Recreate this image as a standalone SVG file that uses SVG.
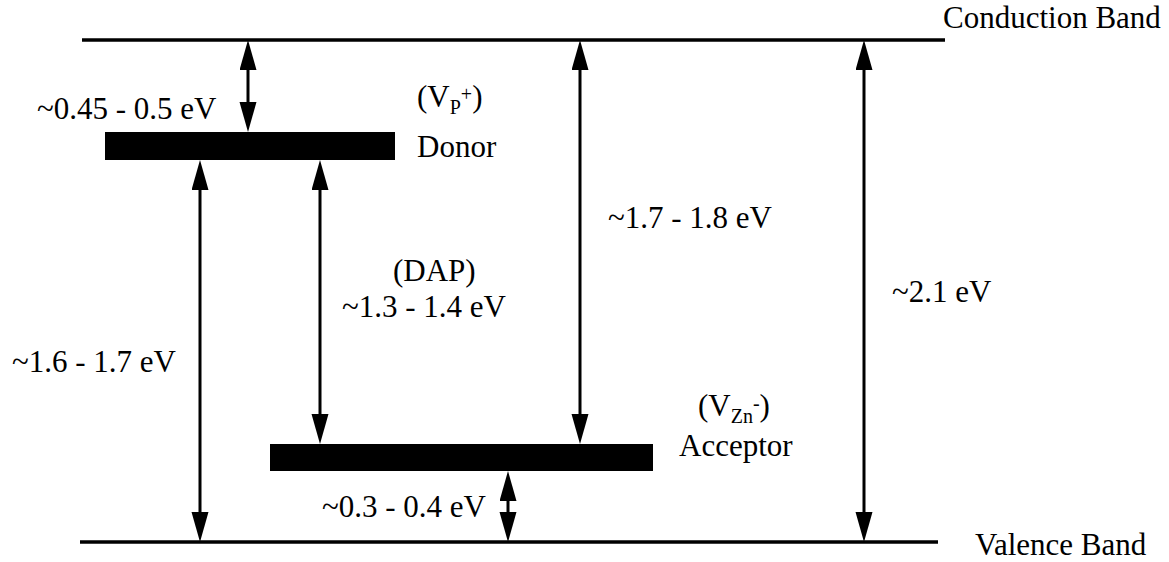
<svg xmlns="http://www.w3.org/2000/svg" width="1169" height="562" viewBox="0 0 1169 562">
  <style>
    text { font-family: "Liberation Serif", "DejaVu Serif", "Times New Roman", Times, serif; font-size: 31px; fill: #000; }
    .sub { font-size: 20px; }
    .band { stroke: #000; stroke-width: 3.5; fill: none; }
    .arrow { stroke: #000; stroke-width: 3; fill: none; marker-start: url(#head); marker-end: url(#head); }
    .level { fill: #000; }
  </style>
  <defs>
    <marker id="head" markerUnits="userSpaceOnUse" markerWidth="31" markerHeight="18" refX="20" refY="8.5" orient="auto-start-reverse">
      <path d="M0,0 L30,8.5 L0,17 Z" fill="#000"/>
    </marker>
  </defs>
  <rect width="1169" height="562" fill="#fff"/>

  <g id="conduction-band">
    <line class="band" x1="82" y1="40" x2="945" y2="40"/>
    <text x="943" y="28">Conduction Band</text>
  </g>
  <g id="valence-band">
    <line class="band" x1="80" y1="542" x2="938" y2="542"/>
    <text x="975" y="555">Valence Band</text>
  </g>
  <g id="donor">
    <rect class="level" x="105" y="132" width="290" height="28"/>
    <text x="417" y="107">(V<tspan class="sub" dy="7">P</tspan><tspan class="sub" dy="-13">+</tspan><tspan dy="6">)</tspan></text>
    <text x="417" y="157">Donor</text>
  </g>
  <g id="acceptor">
    <rect class="level" x="270" y="444" width="383" height="27"/>
    <text x="698" y="416">(V<tspan class="sub" dy="7">Zn</tspan><tspan class="sub" dy="-13">-</tspan><tspan dy="6">)</tspan></text>
    <text x="679" y="456">Acceptor</text>
  </g>

  <g id="connectors">
    <line class="arrow" x1="248" y1="50" x2="248" y2="122"/>
    <line class="arrow" x1="200" y1="170" x2="200" y2="532"/>
    <line class="arrow" x1="320" y1="170" x2="320" y2="434"/>
    <line class="arrow" x1="580" y1="50" x2="580" y2="434"/>
    <line class="arrow" x1="864" y1="50" x2="864" y2="532"/>
    <line class="arrow" x1="508" y1="481" x2="508" y2="532"/>
  </g>

  <g id="labels">
    <text x="37" y="119">~0.45 - 0.5 eV</text>
    <text x="608" y="228">~1.7 - 1.8 eV</text>
    <text x="892" y="302">~2.1 eV</text>
    <text x="393" y="281">(DAP)</text>
    <text x="342" y="317">~1.3 - 1.4 eV</text>
    <text x="12" y="372">~1.6 - 1.7 eV</text>
    <text x="322" y="517">~0.3 - 0.4 eV</text>
  </g>
</svg>
